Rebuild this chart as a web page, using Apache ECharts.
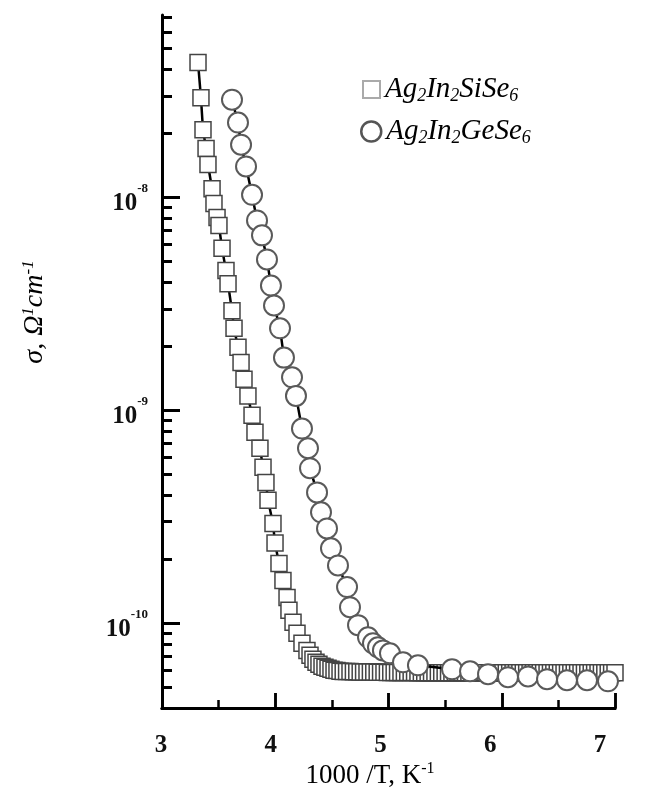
<!DOCTYPE html>
<html>
<head>
<meta charset="utf-8">
<style>html,body{margin:0;padding:0;background:#fff;}#wrap{position:relative;width:649px;height:798px;}#c,#t{position:absolute;left:0;top:0;width:649px;height:798px;}#t{pointer-events:none;}</style>
<script src="https://cdn.jsdelivr.net/npm/echarts@6/dist/echarts.min.js"></script>
</head>
<body>
<div id="wrap"><div id="c"></div><div id="t"></div></div>
<script>
// ---- data ----
var siName = 'Ag2In2SiSe6';
var geName = 'Ag2In2GeSe6';
var siX = [3.318,3.344,3.362,3.389,3.406,3.442,3.459,3.486,3.503,3.530,3.565,3.583,3.618,3.636,3.671,3.698,3.724,3.759,3.795,3.821,3.865,3.892,3.918,3.936,3.980,3.998,4.033,4.068,4.104,4.121,4.157,4.192,4.236,4.280,
  4.307,4.333,4.360,4.386,4.413,4.439,4.466,4.492,4.519,4.545,4.572,
  4.60,4.63,4.66,4.69,4.72,4.75,4.78,4.81,4.84,4.87,4.90,4.93,4.96,4.99,5.02,5.05,5.08,5.11,5.14,5.17,5.20,5.23,5.26,5.29,5.32,5.35,5.38,5.41,5.44,5.47,5.50,5.53,5.56,5.59,5.62,5.65,5.68,5.71,5.74,5.77,5.80,5.83,5.86,5.89,5.92,5.95,5.98,6.01,6.04,6.07,6.10,6.13,6.16,6.19,6.22,6.25,6.28,6.31,6.34,6.37,6.40,6.43,6.46,6.49,6.52,6.55,6.58,6.61,6.64,6.67,6.70,6.73,6.76,6.79,6.82,6.85,6.88,6.91,6.94,6.97,7.00];
var siSigma = [4.31e-8,2.94e-8,2.08e-8,1.70e-8,1.43e-8,1.10e-8,9.37e-9,8.05e-9,7.39e-9,5.77e-9,4.54e-9,3.94e-9,2.94e-9,2.43e-9,1.98e-9,1.68e-9,1.40e-9,1.17e-9,9.48e-10,7.89e-10,6.64e-10,5.40e-10,4.59e-10,3.78e-10,2.94e-10,2.38e-10,1.91e-10,1.59e-10,1.32e-10,1.15e-10,1.01e-10,8.98e-11,8.05e-11,7.46e-11,
  7.08e-11,6.78e-11,6.56e-11,6.42e-11,6.28e-11,6.21e-11,6.15e-11,6.08e-11,6.02e-11,6.00e-11,5.95e-11,
  5.94e-11,5.93e-11,5.93e-11,5.92e-11,5.92e-11,5.91e-11,5.91e-11,5.90e-11,5.90e-11,5.90e-11,5.89e-11,5.89e-11,5.89e-11,5.88e-11,5.88e-11,5.88e-11,5.88e-11,5.87e-11,5.87e-11,5.87e-11,5.87e-11,5.87e-11,5.86e-11,5.86e-11,5.86e-11,5.86e-11,5.86e-11,5.86e-11,5.86e-11,5.86e-11,5.86e-11,5.86e-11,5.86e-11,5.86e-11,5.86e-11,5.86e-11,5.86e-11,5.86e-11,5.86e-11,5.86e-11,5.86e-11,5.86e-11,5.86e-11,5.86e-11,5.86e-11,5.86e-11,5.86e-11,5.86e-11,5.86e-11,5.86e-11,5.86e-11,5.86e-11,5.86e-11,5.86e-11,5.86e-11,5.86e-11,5.86e-11,5.86e-11,5.86e-11,5.86e-11,5.86e-11,5.86e-11,5.86e-11,5.86e-11,5.86e-11,5.86e-11,5.86e-11,5.86e-11,5.86e-11,5.86e-11,5.86e-11,5.86e-11,5.86e-11,5.86e-11,5.86e-11,5.86e-11,5.86e-11,5.86e-11,5.86e-11,5.86e-11,5.86e-11,5.86e-11,5.86e-11];
var geX = [3.618,3.671,3.698,3.742,3.795,3.839,3.883,3.927,3.962,3.989,4.042,4.077,4.148,4.183,4.236,4.289,4.307,4.369,4.404,4.457,4.492,4.554,4.634,4.660,4.731,4.819,4.863,4.907,4.951,5.013,5.128,5.260,5.561,5.720,5.879,6.055,6.232,6.400,6.576,6.753,6.938];
var geSigma = [2.88e-8,2.25e-8,1.77e-8,1.40e-8,1.03e-8,7.80e-9,6.64e-9,5.12e-9,3.86e-9,3.11e-9,2.43e-9,1.77e-9,1.43e-9,1.17e-9,8.22e-10,6.64e-10,5.35e-10,4.12e-10,3.32e-10,2.79e-10,2.25e-10,1.87e-10,1.48e-10,1.19e-10,9.8e-11,8.59e-11,8.05e-11,7.71e-11,7.46e-11,7.23e-11,6.56e-11,6.35e-11,6.08e-11,5.95e-11,5.77e-11,5.58e-11,5.63e-11,5.46e-11,5.40e-11,5.40e-11,5.34e-11];
var xTicks = [3,4,5,6,7];
var xMinorTicks = [3.5,4.5,5.5,6.5];
var yMajorExp = [-10,-9,-8];
var yMinorMantissa = [2,3,4,5,6,7,8,9];
var yMinSigma = 4e-11, yMaxSigma = 7.2e-8;

// ---- build ----
function pairs(xs, ys){ var n=Math.min(xs.length, ys.length), out=[]; for(var i=0;i<n;i++) out.push([xs[i], Math.log10(ys[i])]); return out; }
var yMin = Math.log10(yMinSigma), yMax = Math.log10(yMaxSigma);
var minorVals = [];
[-11,-10,-9,-8].forEach(function(e){ yMinorMantissa.forEach(function(m){ var v=Math.log10(m)+e; if(v>yMin+1e-6 && v<yMax-1e-6) minorVals.push(v); }); });
var serif = '"Liberation Serif","DejaVu Serif",serif';
var legRich = {
  a:{fontFamily:serif,fontStyle:'italic',fontSize:29,lineHeight:32,color:'#000'},
  s:{fontFamily:serif,fontStyle:'italic',fontSize:18,lineHeight:12,verticalAlign:'bottom',color:'#000'}
};
function legFmt(n){ return n===siName ? '{a|Ag}{s|2}{a|In}{s|2}{a|SiSe}{s|6}' : '{a|Ag}{s|2}{a|In}{s|2}{a|GeSe}{s|6}'; }

var chart = echarts.init(document.getElementById('c'), null, {renderer:'canvas'});
chart.setOption({
  animation:false,
  backgroundColor:'#fff',
  grid:[
    {left:162, right:34, top:15, bottom:90},
    {left:161, right:49, top:15, bottom:90}
  ],
  xAxis:[
    {type:'value', gridIndex:0, min:3, max:7,
     axisLine:{show:true, lineStyle:{color:'#000', width:3}},
     axisTick:{show:true, inside:true, length:15, customValues:xTicks, lineStyle:{color:'#000', width:2.5}},
     axisLabel:{show:false}, splitLine:{show:false}},
    {type:'value', gridIndex:1, min:3, max:7,
     axisLine:{show:false}, axisTick:{show:false}, splitLine:{show:false},
     axisLabel:{margin:25, customValues:xTicks, color:'#111', fontFamily:serif, fontWeight:'bold', fontSize:25}}
  ],
  yAxis:[
    {type:'value', gridIndex:0, min:yMin, max:yMax,
     axisLine:{show:true, lineStyle:{color:'#000', width:3}},
     axisTick:{show:true, inside:true, length:18, customValues:yMajorExp, lineStyle:{color:'#000', width:3}},
     axisLabel:{margin:14, customValues:yMajorExp, formatter:function(v){ return '{b|10}{s|'+Math.round(v)+'}'; },
       rich:{ b:{fontFamily:serif, fontWeight:'bold', fontSize:25, lineHeight:30, color:'#111', padding:[12,0,0,0]},
              s:{fontFamily:serif, fontWeight:'bold', fontSize:13, lineHeight:12, verticalAlign:'top', color:'#111'} }},
     splitLine:{show:false}},
    {type:'value', gridIndex:0, min:yMin, max:yMax, position:'left',
     axisLine:{show:false},
     axisTick:{show:true, inside:true, length:10, customValues:minorVals, lineStyle:{color:'#000', width:3}},
     axisLabel:{show:false}, splitLine:{show:false}},
    {type:'value', gridIndex:1, min:0, max:1, show:false}
  ],
  legend:[
    {left:357, top:70, itemWidth:17, itemHeight:17, selectedMode:false,
     data:[{name:siName, icon:'rect', itemStyle:{color:'#fff', borderColor:'#aaa', borderWidth:2}}],
     formatter:legFmt, textStyle:{rich:legRich}},
    {left:355, top:112, itemWidth:20, itemHeight:20, itemGap:0, selectedMode:false,
     data:[{name:geName, icon:'circle', itemStyle:{color:'#fff', borderColor:'#555', borderWidth:2.5}}],
     formatter:legFmt, textStyle:{rich:legRich}}
  ],
  graphic:[
    {type:'text', x:370, y:776, style:{
      text:'{t|1000 /T, K}{p|-1}', align:'center', verticalAlign:'middle',
      rich:{t:{fontFamily:serif, fontSize:27, lineHeight:30, color:'#000'},
            p:{fontFamily:serif, fontSize:16, lineHeight:14, verticalAlign:'top', color:'#000'}}}},
    {type:'text', x:35, y:312, rotation:Math.PI/2, style:{
      text:'{t|σ, Ω}{p|1}{t|cm}{p|-1}', align:'center', verticalAlign:'middle',
      rich:{t:{fontFamily:serif, fontStyle:'italic', fontSize:28, lineHeight:30, color:'#000'},
            p:{fontFamily:serif, fontStyle:'italic', fontSize:17, lineHeight:14, verticalAlign:'top', color:'#000'}}}}
  ],
  series:[
    {name:siName, type:'line', xAxisIndex:0, yAxisIndex:0, data:pairs(siX, siSigma),
     symbol:'rect', symbolSize:16, showAllSymbol:true,
     itemStyle:{color:'#fff', borderColor:'#444', borderWidth:1.5},
     lineStyle:{color:'#000', width:2.5}, z:2},
    {name:geName, type:'line', xAxisIndex:0, yAxisIndex:0, data:pairs(geX, geSigma),
     symbol:'circle', symbolSize:20, showAllSymbol:true,
     itemStyle:{color:'#fff', borderColor:'#5a5a5a', borderWidth:2},
     lineStyle:{color:'#000', width:2.5}, z:3}
  ]
});

// overlay instance: x-axis tick marks (same grid geometry), transparent background
var tickChart = echarts.init(document.getElementById('t'), null, {renderer:'canvas'});
tickChart.setOption({
  animation:false,
  grid:[{left:162, right:34, top:15, bottom:90}],
  xAxis:[
    {type:'value', gridIndex:0, min:3, max:7,
     axisLine:{show:true, lineStyle:{color:'#000', width:3}},
     axisTick:{show:true, inside:true, length:15, customValues:xTicks, lineStyle:{color:'#000', width:2.5}},
     axisLabel:{show:false}, splitLine:{show:false}},
    {type:'value', gridIndex:0, min:3, max:7, position:'bottom',
     axisLine:{show:false},
     axisTick:{show:true, inside:true, length:8, customValues:xMinorTicks, lineStyle:{color:'#000', width:2.5}},
     axisLabel:{show:false}, splitLine:{show:false}}
  ],
  yAxis:[{type:'value', gridIndex:0, min:0, max:1, show:false}],
  series:[]
});
</script>
</body>
</html>
